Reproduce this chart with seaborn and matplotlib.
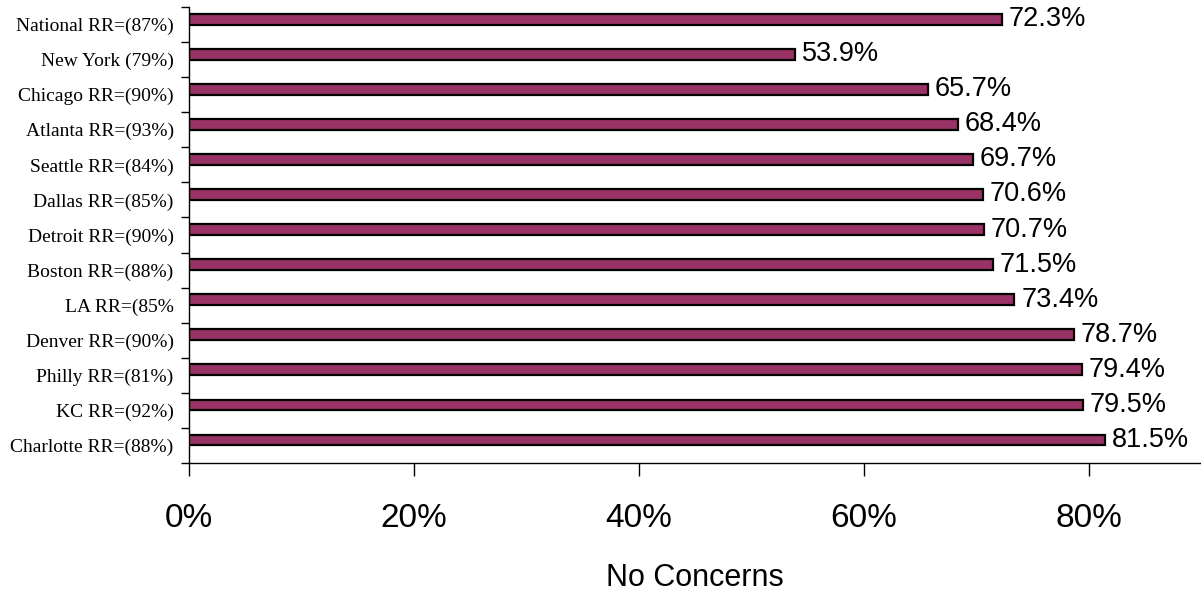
import matplotlib
matplotlib.use("Agg")
import matplotlib.pyplot as plt
import seaborn as sns
import pandas as pd
from matplotlib.ticker import FixedLocator, FuncFormatter, NullFormatter

# Survey results: share of respondents with no concerns, by site (response rate in label)
sites = [
    "National RR=(87%)",
    "New York (79%)",
    "Chicago RR=(90%)",
    "Atlanta RR=(93%)",
    "Seattle RR=(84%)",
    "Dallas RR=(85%)",
    "Detroit RR=(90%)",
    "Boston RR=(88%)",
    "LA RR=(85%",
    "Denver RR=(90%)",
    "Philly RR=(81%)",
    "KC RR=(92%)",
    "Charlotte RR=(88%)",
]
no_concerns = [72.3, 53.9, 65.7, 68.4, 69.7, 70.6, 70.7, 71.5, 73.4, 78.7, 79.4, 79.5, 81.5]
x_ticks = [0, 20, 40, 60, 80]
series_name = "No Concerns"
bar_color = "#993366"

df = pd.DataFrame({"site": sites, "pct": no_concerns, "series": series_name})

W, H = 1201, 595
fig = plt.figure(figsize=(W / 100, H / 100), dpi=100)
ax = fig.add_axes([189 / W, 1 - 463 / H, 1 - 189 / W, (463 - 7) / H])

# Second (empty) hue slot keeps each bar in the upper half of its category band
sns.barplot(
    data=df, x="pct", y="site", hue="series",
    order=sites, hue_order=[series_name, "_blank"],
    palette={series_name: bar_color, "_blank": bar_color},
    saturation=1, width=0.62, dodge=True, edgecolor="black", linewidth=1.6,
    legend=False, ax=ax,
)

for cont in ax.containers:
    if len(cont) == len(no_concerns):
        ax.bar_label(cont, labels=[f"{v:.1f}%" for v in no_concerns], padding=5,
                     fontsize=19.5, family="Liberation Sans", color="black")

ax.set_xlim(0, 90)
ax.set_ylim(len(sites) - 0.5, -0.5)

# x axis
ax.xaxis.set_major_locator(FixedLocator(x_ticks))
ax.xaxis.set_major_formatter(FuncFormatter(lambda v, p: f"{v:.0f}%"))
ax.tick_params(axis="x", direction="out", length=9, width=1, pad=19.5, colors="black",
               labelsize=24)
for lab in ax.get_xticklabels():
    lab.set_family("Liberation Sans")
ax.set_xlabel(series_name, fontsize=22, family="Liberation Sans", labelpad=21)

# y axis: labels at category centres, tick marks at category boundaries
ax.yaxis.set_minor_locator(FixedLocator([i - 0.5 for i in range(len(sites) + 1)]))
ax.yaxis.set_minor_formatter(NullFormatter())
ax.tick_params(axis="y", which="major", length=0, pad=11, labelsize=14)
ax.tick_params(axis="y", which="minor", direction="out", length=6, width=1)
for lab in ax.get_yticklabels():
    lab.set_family("Liberation Serif")
ax.set_ylabel("")

for side in ("top", "right"):
    ax.spines[side].set_visible(False)
for side in ("left", "bottom"):
    ax.spines[side].set_color("black")
    ax.spines[side].set_linewidth(1)
ax.grid(False)
ax.set_facecolor("white")

fig.savefig("out.png", dpi=100, facecolor="white")
